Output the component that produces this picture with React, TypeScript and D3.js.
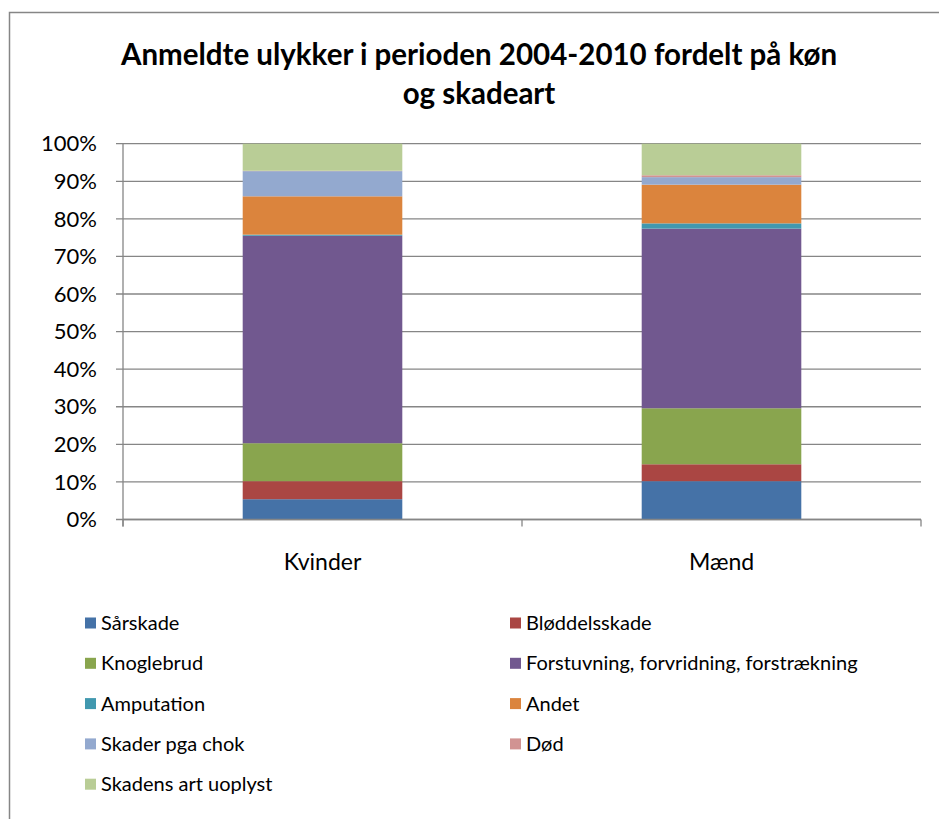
import React, { useEffect, useRef } from 'react';
import * as d3 from 'd3';

// categories and injury types
const CATEGORIES = ['Kvinder', 'Mænd'];
const SERIES = [
  'Sårskade',
  'Bløddelsskade',
  'Knoglebrud',
  'Forstuvning, forvridning, forstrækning',
  'Amputation',
  'Andet',
  'Skader pga chok',
  'Død',
  'Skadens art uoplyst'
];
const COLORS = ['#4572A7', '#AA4643', '#89A54E', '#71588F', '#4198AF', '#DB843D', '#93A9CF', '#D19392', '#B9CD96'];

// shares in percent, one value per series
const KVINDER = [5.4, 4.8, 10.1, 55.2, 0.3, 10.2, 6.7, 0.1, 7.2];
const MAEND = [10.2, 4.5, 14.9, 47.8, 1.4, 10.3, 2.0, 0.5, 8.4];

const Y_TICKS = [0, 10, 20, 30, 40, 50, 60, 70, 80, 90, 100];
const TITLE_LINES = ['Anmeldte ulykker i perioden 2004-2010 fordelt på køn', 'og skadeart'];

const WIDTH = 939;
const HEIGHT = 819;
const FONT = 'Lato, "Open Sans", sans-serif';

const App: React.FC = () => {
  const ref = useRef<SVGSVGElement>(null);

  useEffect(() => {
    if (!ref.current) return;
    const svg = d3.select(ref.current);
    svg.selectAll('*').remove();

    const left = 123, right = 921, top = 143.7, bottom = 519.5;

    // outer frame
    svg.append('rect')
      .attr('x', 9.5).attr('y', 12.5)
      .attr('width', WIDTH + 20).attr('height', HEIGHT + 20)
      .attr('fill', '#fff').attr('stroke', '#868686').attr('stroke-width', 1.5);

    // title
    svg.append('g').selectAll('text')
      .data(TITLE_LINES)
      .enter().append('text')
      .attr('x', 479)
      .attr('y', (d, i) => 65 + i * 39)
      .attr('text-anchor', 'middle')
      .attr('font-family', FONT)
      .attr('font-weight', 'bold')
      .attr('font-size', 29.5)
      .attr('fill', '#000')
      .text(d => d);

    const x = d3.scaleBand<string>()
      .domain(CATEGORIES)
      .range([left, right])
      .paddingInner(0.6)
      .paddingOuter(0.3);

    const y = d3.scaleLinear().domain([0, 100]).range([bottom, top]);

    // gridlines
    svg.append('g').selectAll('line')
      .data(Y_TICKS)
      .enter().append('line')
      .attr('x1', left - 7).attr('x2', right)
      .attr('y1', d => y(d)).attr('y2', d => y(d))
      .attr('stroke', '#868686').attr('stroke-width', 1.3);

    // y labels
    svg.append('g').selectAll('text')
      .data(Y_TICKS)
      .enter().append('text')
      .attr('x', 97)
      .attr('y', d => y(d))
      .attr('dy', '0.35em')
      .attr('text-anchor', 'end')
      .attr('font-family', FONT)
      .attr('font-size', 22)
      .attr('fill', '#000')
      .text(d => `${d}%`);

    // stacked bars
    const rows = CATEGORIES.map((c, i) => {
      const vals = i === 0 ? KVINDER : MAEND;
      const row: any = { cat: c };
      SERIES.forEach((s, j) => { row[s] = vals[j]; });
      return row;
    });
    const stacked = d3.stack<any>().keys(SERIES)(rows);

    svg.append('g').selectAll('g')
      .data(stacked)
      .enter().append('g')
      .attr('fill', (d, i) => COLORS[i])
      .selectAll('rect')
      .data(d => d)
      .enter().append('rect')
      .attr('x', d => x(d.data.cat) as number)
      .attr('width', x.bandwidth())
      .attr('y', d => y(d[1]))
      .attr('height', d => y(d[0]) - y(d[1]));

    // axes lines
    svg.append('line')
      .attr('x1', left).attr('x2', left).attr('y1', top).attr('y2', bottom + 7)
      .attr('stroke', '#868686').attr('stroke-width', 1.3);
    svg.append('line')
      .attr('x1', left).attr('x2', right).attr('y1', bottom).attr('y2', bottom)
      .attr('stroke', '#868686').attr('stroke-width', 1.3);
    const sep = [left, (left + right) / 2, right];
    svg.append('g').selectAll('line')
      .data(sep)
      .enter().append('line')
      .attr('x1', d => d).attr('x2', d => d)
      .attr('y1', bottom).attr('y2', bottom + 7)
      .attr('stroke', '#868686').attr('stroke-width', 1.3);

    // category labels
    svg.append('g').selectAll('text')
      .data(CATEGORIES)
      .enter().append('text')
      .attr('x', d => (x(d) as number) + x.bandwidth() / 2)
      .attr('y', 562)
      .attr('dy', '0.35em')
      .attr('text-anchor', 'middle')
      .attr('font-family', FONT)
      .attr('font-size', 23)
      .attr('fill', '#000')
      .text(d => d);

    // legend
    const legend = svg.append('g').selectAll('g')
      .data(SERIES)
      .enter().append('g')
      .attr('transform', (d, i) => `translate(${i % 2 === 0 ? 85 : 510},${623 + Math.floor(i / 2) * 40.3})`);
    legend.append('rect')
      .attr('x', 0).attr('y', -5.5)
      .attr('width', 11).attr('height', 11)
      .attr('fill', (d, i) => COLORS[i]);
    legend.append('text')
      .attr('x', 16)
      .attr('dy', '0.35em')
      .attr('font-family', FONT)
      .attr('font-size', 20)
      .attr('fill', '#000')
      .text(d => d);
  }, []);

  return (
    <svg
      ref={ref}
      width={WIDTH}
      height={HEIGHT}
      style={{ position: 'absolute', left: 0, top: 0, background: '#fff' }}
    />
  );
};

export default App;
